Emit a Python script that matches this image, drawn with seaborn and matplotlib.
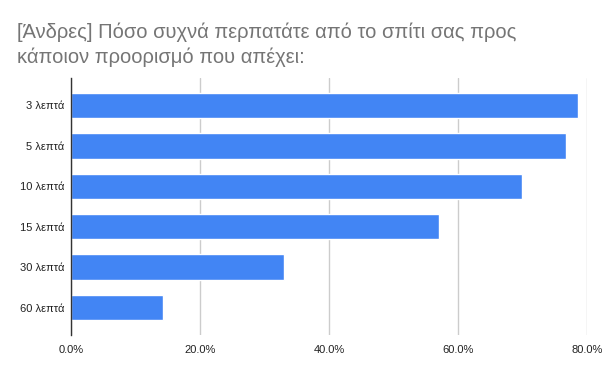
import matplotlib
matplotlib.use("Agg")
import matplotlib.pyplot as plt
import seaborn as sns
import pandas as pd
from matplotlib.ticker import FuncFormatter

title = "[Άνδρες] Πόσο συχνά περπατάτε από το σπίτι σας προς\nκάποιον προορισμό που απέχει:"
categories = ["3 λεπτά", "5 λεπτά", "10 λεπτά", "15 λεπτά", "30 λεπτά", "60 λεπτά"]
shares = [78.6, 76.7, 69.9, 57.1, 33.0, 14.2]
x_ticks = [0, 20, 40, 60, 80]

df = pd.DataFrame({"category": categories, "share": shares})

sns.set_theme(style="white")
plt.rcParams["font.family"] = ["Liberation Sans", "DejaVu Sans"]

fig = plt.figure(figsize=(6.06, 3.74), dpi=100)
ax = fig.add_axes([71 / 606, 1 - 335 / 374, 516 / 606, 257 / 374])

sns.barplot(data=df, x="share", y="category", orient="h", color="#4285F4",
            saturation=1, width=0.63, ax=ax, zorder=3)

ax.set_xlim(0, 80)
ax.set_ylim(5.68, -0.68)
ax.set_xticks(x_ticks)
ax.xaxis.set_major_formatter(FuncFormatter(lambda v, p: f"{v:.1f}%"))
ax.grid(axis="x", color="#cccccc", linewidth=1, zorder=0)
ax.set_xlabel("")
ax.set_ylabel("")
for s in ["top", "right", "bottom"]:
    ax.spines[s].set_visible(False)
ax.spines["left"].set_color("#333333")
ax.spines["left"].set_linewidth(1)
ax.spines["left"].set_zorder(4)
ax.tick_params(axis="both", length=0, labelsize=8, labelcolor="#222222")
ax.tick_params(axis="y", pad=5)
ax.tick_params(axis="x", pad=7)

fig.text(17 / 606, 1 - 23 / 374, title, ha="left", va="top", fontsize=14.5,
         color="#757575", linespacing=1.3)

fig.savefig("out.png", dpi=100)
